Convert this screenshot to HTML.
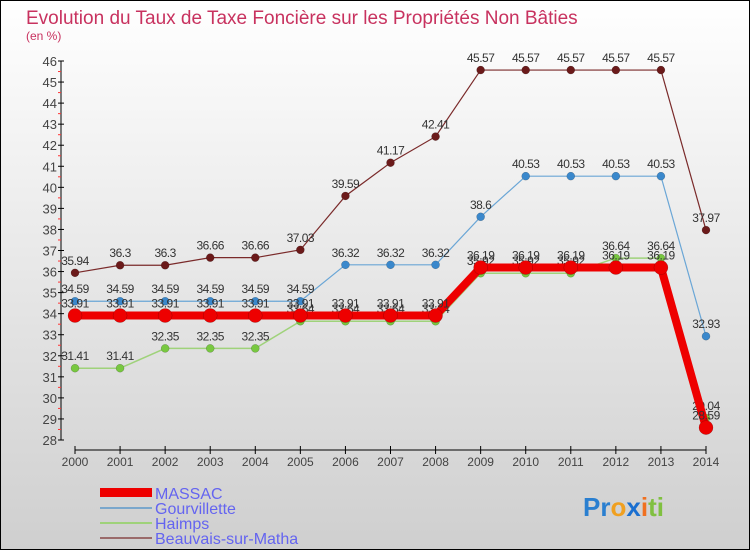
<!DOCTYPE html>
<html><head><meta charset="utf-8"><style>
body{margin:0;}
#c{width:750px;height:550px;position:relative;}
svg text{font-family:"Liberation Sans",sans-serif;}
</style></head><body>
<div id="c">
<svg id="s" width="750" height="550" xmlns="http://www.w3.org/2000/svg">
<defs><linearGradient id="bg" x1="0" y1="0" x2="0" y2="1"><stop offset="0" stop-color="#ffffff"/><stop offset="1" stop-color="#cfcfcf"/></linearGradient></defs>
<rect x="0.5" y="0.5" width="749" height="549" fill="url(#bg)" stroke="#000"/>
<text x="26" y="24" font-size="19" fill="#c8325f">Evolution du Taux de Taxe Foncière sur les Propriétés Non Bâties</text>
<text x="26" y="40" font-size="12" fill="#c8325f">(en %)</text>
<g id="axes"></g><g id="series"></g>
<g>
<rect x="100" y="488" width="52" height="9" fill="#e00"/>
<text x="155" y="499" font-size="16" fill="#6464f0">MASSAC</text>
<line x1="100" x2="152" y1="508" y2="508" stroke="#7aa7cc" stroke-width="2"/>
<text x="155" y="514" font-size="16" fill="#6464f0">Gourvillette</text>
<line x1="100" x2="152" y1="523" y2="523" stroke="#9fd27a" stroke-width="2"/>
<text x="155" y="529" font-size="16" fill="#6464f0">Haimps</text>
<line x1="100" x2="152" y1="538" y2="538" stroke="#9a6a6a" stroke-width="2"/>
<text x="155" y="544" font-size="16" fill="#6464f0">Beauvais-sur-Matha</text>
</g>
<g font-size="26" font-weight="bold">
<text x="583" y="516"><tspan fill="#2a7fd0">Pr</tspan><tspan fill="#f0a020">o</tspan><tspan fill="#1a6fd0">x</tspan><tspan fill="#f07020">i</tspan><tspan fill="#80c040">ti</tspan></text>
</g>
</svg></div>
<script>
const years=[2000,2001,2002,2003,2004,2005,2006,2007,2008,2009,2010,2011,2012,2013,2014];
const yTicks=[28,29,30,31,32,33,34,35,36,37,38,39,40,41,42,43,44,45,46];
const massac=[33.91,33.91,33.91,33.91,33.91,33.91,33.91,33.91,33.91,36.19,36.19,36.19,36.19,36.19,28.59];
const gourvillette=[34.59,34.59,34.59,34.59,34.59,34.59,36.32,36.32,36.32,38.6,40.53,40.53,40.53,40.53,32.93];
const haimps=[31.41,31.41,32.35,32.35,32.35,33.64,33.64,33.64,33.64,35.92,35.92,35.92,36.64,36.64,29.04];
const beauvais=[35.94,36.3,36.3,36.66,36.66,37.03,39.59,41.17,42.41,45.57,45.57,45.57,45.57,45.57,37.97];
const NS="http://www.w3.org/2000/svg";
const X=i=>75+i*(706-75)/14;
const Y=v=>440-(v-28)*(440-61)/18;
function mk(tag,attrs,parent){const e=document.createElementNS(NS,tag);for(const k in attrs)e.setAttribute(k,attrs[k]);parent.appendChild(e);return e;}
const ax=document.getElementById('axes');
let a=mk('line',{x1:61,x2:61,y1:61,y2:440,stroke:'#000'},ax);


yTicks.forEach(t=>{
 const y=Y(t);
 mk('line',{x1:58,x2:64,y1:y,y2:y,stroke:'#000'},ax);
 if(t<46){mk('line',{x1:58,x2:61,y1:Y(t+0.5),y2:Y(t+0.5),stroke:'#f33'},ax);}
 const l=mk('text',{x:57,y:y+5,'font-size':13,'text-anchor':'end',fill:'#444'},ax);
 l.textContent=t;
 
 
});
a=mk('line',{x1:X(0),x2:X(14),y1:450,y2:450,stroke:'#000'},ax);


years.forEach((yr,i)=>{
 mk('line',{x1:X(i),x2:X(i),y1:446,y2:454,stroke:'#000'},ax);
 const l=mk('text',{x:X(i),y:466,'font-size':12,'text-anchor':'middle',fill:'#444'},ax);
 l.textContent=yr;
 
 
});
const sg=document.getElementById('series');
function series(name,vals,color,dot,lw,r,labels){
 const g=mk('g',{},sg);
 
 
 mk('polyline',{points:vals.map((v,i)=>X(i)+','+Y(v)).join(' '),fill:'none',stroke:color,'stroke-width':lw},g);
 vals.forEach((v,i)=>{
  const c=mk('circle',{cx:X(i),cy:Y(v),r:r,fill:dot,stroke:'rgba(0,0,0,0.3)','stroke-width':0.5},g);
  
  
  const t=mk('text',{x:X(i),y:Y(v)-8,'font-size':12,'text-anchor':'middle',fill:'#333','letter-spacing':'-0.5'},g);
  t.textContent=v;
  
  
 });
}
series('beauvais',beauvais,'#7a2a2a','#6b1a1a',1.2,4);
series('gourvillette',gourvillette,'#6aa6d6','#3a88cc',1.2,4);
series('haimps',haimps,'#9fd27a','#78c840',1.5,4);
series('massac',massac,'#ee0000','#ee0000',8,7);
</script>
</body></html>
